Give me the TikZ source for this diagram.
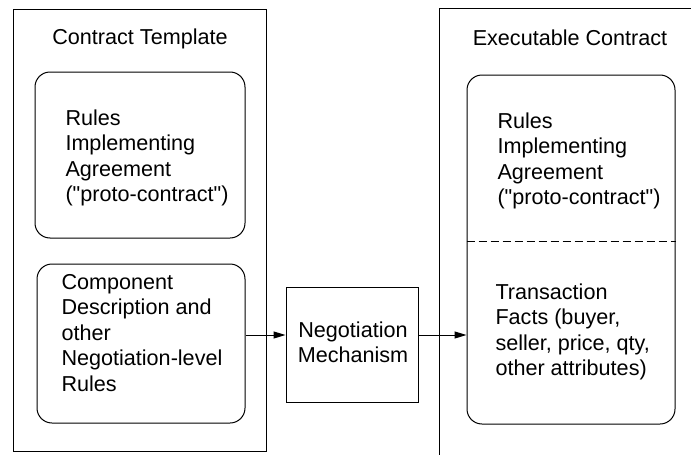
\documentclass[tikz,border=0pt]{standalone}
\usepackage{fontspec}
\setmainfont{Liberation Sans}[Ligatures=TeXOff]
\usetikzlibrary{arrows.meta}
\newcommand{\lftlines}[1]{\vtop{\halign{##\hfil\cr#1\crcr}}}
\newcommand{\ctrlines}[1]{\vtop{\halign{\hfil##\hfil\cr#1\crcr}}}
\begin{document}
\begin{tikzpicture}[x=1pt,y=-1pt,line width=1pt,
  plainbox/.style={draw,rectangle,inner sep=0pt},
  roundbox/.style={draw,rectangle,rounded corners=15pt,inner sep=0pt},
  txt/.style={font=\fontsize{21.6}{25.5}\selectfont,anchor=base west,inner sep=0pt},
  ttl/.style={font=\fontsize{21.6}{25.5}\selectfont,anchor=base,inner sep=0pt},
  arr/.style={-{Triangle[length=12pt,width=7pt]}},
  sep/.style={dash pattern=on 8pt off 4pt}]
\useasboundingbox (0,0) rectangle (691,455);
% containers
\node[plainbox,minimum width=253pt,minimum height=442pt] (tpl) at (139.5,230) {};
\draw (691,8) -- (439,8) -- (439,455);
% boxes
\node[roundbox,minimum width=210pt,minimum height=166pt] (ruleL) at (140,155) {};
\node[roundbox,minimum width=208pt,minimum height=159pt] (compL) at (141,343.5) {};
\node[plainbox,minimum width=132pt,minimum height=115pt] (nego) at (352,344.5) {};
\node[roundbox,minimum width=208pt,minimum height=349pt] (exec) at (571,249.5) {};
\coordinate (dy) at (0,241);
\draw[sep] (exec.west |- dy) -- (exec.east |- dy);
% texts
\node[ttl] (ttlL) at (140,44) {Contract Template};
\node[ttl] (ttlR) at (570,45) {Executable Contract};
\node[txt] (rtxtL) at (65,125) {\lftlines{Rules\cr Implementing\cr Agreement\cr ("proto-contract")}};
\node[txt] (ctxt) at (61,289) {\lftlines{Component\cr Description and\cr other\cr Negotiation-level\cr Rules}};
\node[ttl] (ntxt) at (353,337) {\ctrlines{Negotiation\cr Mechanism}};
\node[txt] (rtxtR) at (497,128) {\lftlines{Rules\cr Implementing\cr Agreement\cr ("proto-contract")}};
\node[txt] (ftxt) at (495,299) {\lftlines{Transaction\cr Facts (buyer,\cr seller, price, qty,\cr other attributes)}};
% connectors
\coordinate (ay) at (0,335);
\draw[arr] (compL.east |- ay) -- (nego.west |- ay);
\draw[arr] (nego.east |- ay) -- (exec.west |- ay);
\end{tikzpicture}
\end{document}
